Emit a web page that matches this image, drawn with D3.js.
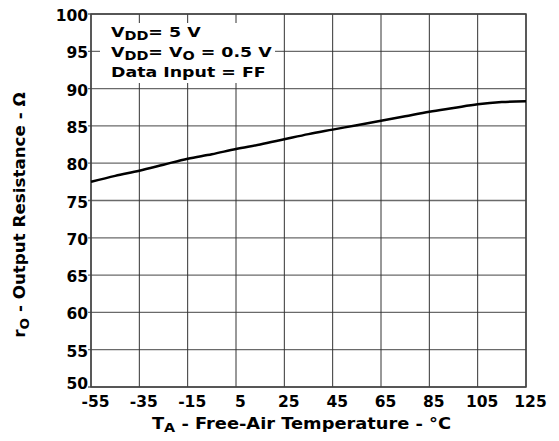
<!DOCTYPE html>
<html>
<head>
<meta charset="utf-8">
<script src="https://cdn.jsdelivr.net/npm/d3@7"></script>
<style>
  body { margin: 0; background: #fff; }
  text { font-family: "DejaVu Sans", sans-serif; font-weight: bold; fill: #000; }
</style>
</head>
<body>
<div id="chart"></div>
<script>
// output resistance vs temperature
const TEMPS = [-55, -45, -35, -25, -15, -5, 5, 15, 25, 35, 45, 55, 65, 75, 85, 95, 105, 115, 125];
const R_OUT = [77.5, 78.3, 79.0, 79.8, 80.6, 81.2, 81.9, 82.5, 83.2, 83.9, 84.5, 85.1, 85.7, 86.3, 86.9, 87.4, 87.9, 88.2, 88.3];
const X_TICKS = [-55, -35, -15, 5, 25, 45, 65, 85, 105, 125];
const Y_TICKS = [50, 55, 60, 65, 70, 75, 80, 85, 90, 95, 100];

const FRAME_WIDTH = 559;
const FRAME_HEIGHT = 441;
const MARGINS = {left: 91, right: 33, top: 14, bottom: 54};
const VIS_WIDTH = FRAME_WIDTH - MARGINS.left - MARGINS.right;
const VIS_HEIGHT = FRAME_HEIGHT - MARGINS.top - MARGINS.bottom;

const FRAME = d3.select("#chart")
                .append("svg")
                  .attr("width", FRAME_WIDTH)
                  .attr("height", FRAME_HEIGHT);

const X_SCALE = d3.scaleLinear().domain([-55, 125]).range([0, VIS_WIDTH]);
const Y_SCALE = d3.scaleLinear().domain([50, 100]).range([VIS_HEIGHT, 0]);

const G = FRAME.append("g")
               .attr("transform", "translate(" + MARGINS.left + "," + MARGINS.top + ")");

// horizontal grid (grey)
G.selectAll(".hgrid")
  .data(Y_TICKS)
  .enter()
  .append("line")
    .attr("x1", -3)
    .attr("x2", VIS_WIDTH)
    .attr("y1", (d) => Y_SCALE(d))
    .attr("y2", (d) => Y_SCALE(d))
    .attr("stroke", "#6a6a6a")
    .attr("stroke-width", 1.3);

// vertical grid (darker)
G.selectAll(".vgrid")
  .data(X_TICKS)
  .enter()
  .append("line")
    .attr("x1", (d) => X_SCALE(d))
    .attr("x2", (d) => X_SCALE(d))
    .attr("y1", 0)
    .attr("y2", VIS_HEIGHT)
    .attr("stroke", "#333")
    .attr("stroke-width", 1);

// frame
G.append("rect")
  .attr("width", VIS_WIDTH)
  .attr("height", VIS_HEIGHT)
  .attr("fill", "none")
  .attr("stroke", "#444")
  .attr("stroke-width", 1.5);

// axes: labels only
const xAxis = G.append("g")
  .attr("transform", "translate(0," + VIS_HEIGHT + ")")
  .call(d3.axisBottom(X_SCALE).tickValues(X_TICKS).tickSize(0).tickPadding(9).tickFormat((d) => String(d)));
xAxis.select(".domain").remove();
xAxis.selectAll("text").style("font-size", "15.5px").attr("fill", "#000").attr("dx", 4);

const yAxis = G.append("g")
  .call(d3.axisLeft(Y_SCALE).tickValues(Y_TICKS).tickSize(0).tickPadding(3).tickFormat((d) => String(d)));
yAxis.select(".domain").remove();
yAxis.selectAll("text").style("font-size", "15.5px").attr("fill", "#000")
  .attr("dy", (d) => d === 50 ? "0.1em" : "0.42em");

// curve
G.append("path")
  .datum(TEMPS.map((t, i) => [t, R_OUT[i]]))
  .attr("fill", "none")
  .attr("stroke", "#000")
  .attr("stroke-width", 2.5)
  .attr("d", d3.line().x((d) => X_SCALE(d[0])).y((d) => Y_SCALE(d[1])).curve(d3.curveMonotoneX));

// condition box
G.append("rect")
  .attr("x", 9)
  .attr("y", 9)
  .attr("width", 175)
  .attr("height", 60)
  .attr("fill", "#fff");

const note = G.append("g")
  .attr("transform", "translate(20,0) scale(1.2,1)")
  .style("font-size", "14.5px");
const l1 = note.append("text").attr("x", 0).attr("y", 23);
l1.append("tspan").text("V");
l1.append("tspan").attr("dy", 3).style("font-size", "12px").text("DD");
l1.append("tspan").attr("dy", -3).text("= 5 V");

const l2 = note.append("text").attr("x", 0).attr("y", 43);
l2.append("tspan").text("V");
l2.append("tspan").attr("dy", 3).style("font-size", "12px").text("DD");
l2.append("tspan").attr("dy", -3).text("= V");
l2.append("tspan").attr("dy", 3).style("font-size", "12px").text("O");
l2.append("tspan").attr("dy", -3).text(" = 0.5 V");

note.append("text").attr("x", 0).attr("y", 63).text("Data Input = FF");

// x label
const xl = FRAME.append("text")
  .attr("transform", "translate(" + (MARGINS.left + VIS_WIDTH / 2 - 7) + ",429) scale(1.15,1)")
  .attr("text-anchor", "middle")
  .style("font-size", "15.5px");
xl.append("tspan").text("T");
xl.append("tspan").attr("dy", 3).style("font-size", "12.5px").text("A");
xl.append("tspan").attr("dy", -3).text(" - Free-Air Temperature - °C");

// y label
const yl = FRAME.append("text")
  .attr("transform", "translate(25,215) rotate(-90) scale(1.08,1)")
  .attr("text-anchor", "middle")
  .style("font-size", "15.5px");
yl.append("tspan").text("r");
yl.append("tspan").attr("dy", 4).style("font-size", "12.5px").text("O");
yl.append("tspan").attr("dy", -4).text(" - Output Resistance - Ω");
</script>
</body>
</html>
